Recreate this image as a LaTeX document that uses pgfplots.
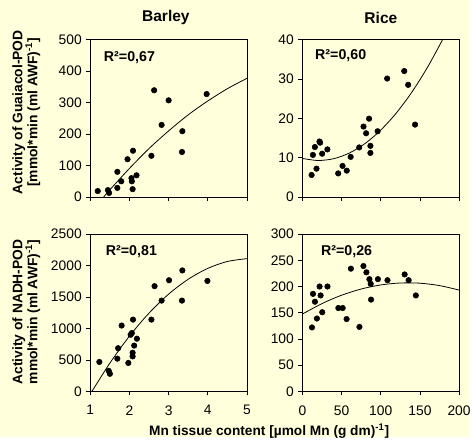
\documentclass[border=0pt]{standalone}
\usepackage{fontspec}
\setmainfont{Liberation Sans}
\usepackage{pgfplots}
\pgfplotsset{compat=1.18}
\definecolor{bg}{RGB}{255,255,219}
\pgfplotsset{
  panel/.style={
    scale only axis, width=119pt, height=119.6pt,
    axis line style={black, line width=0.6pt},
    tick align=outside, major tick length=3pt,
    xtick pos=bottom, ytick pos=left,
    tick style={black, line width=0.6pt},
    ticklabel style={font=\fontsize{10.5}{12}\selectfont},
    xticklabel style={yshift=-4pt},
    /pgf/number format/assume math mode=true,
    /pgf/number format/1000 sep={},
    anchor=south west,
  },
  dots/.style={only marks, mark=*, mark size=2.1pt, black},
  trend/.style={black, line width=0.6pt, smooth, no marks},
}
\begin{document}
\begin{tikzpicture}
\fill[bg] (0,0) rectangle (356.25pt,332.25pt);

% Barley, guaiacol-POD
\begin{axis}[panel, at={(68.6pt,182.6pt)},
  xmin=1, xmax=5, xtick={1,2,3,4,5}, xticklabels={},
  ymin=0, ymax=500, ytick={0,100,...,500}]
\addplot[dots] coordinates {
(1.19,19) (1.45,22) (1.48,13) (1.69,29) (1.69,80) (1.79,50) (1.95,120)
(2.05,60) (2.06,50) (2.08,25) (2.09,147) (2.18,69) (2.56,131) (2.63,339)
(2.82,229) (3.00,307) (3.35,209) (3.34,143) (3.97,327)};
\addplot[trend] coordinates {
(1.34,0) (1.5,23) (2,91) (2.5,154) (3,210) (3.5,261) (4,305) (4.5,344) (5,377)};
\node[anchor=west, font=\bfseries\fontsize{10.8}{12}\selectfont] at (axis cs:1.23,443) {R²=0,67};
\end{axis}

% Rice, guaiacol-POD
\begin{axis}[panel, at={(229.7pt,182.6pt)},
  xmin=0, xmax=200, xtick={0,50,...,200}, xticklabels={},
  ymin=0, ymax=40, ytick={0,10,...,40}]
\addplot[dots] coordinates {
(11.7,5.6) (13.4,10.7) (15.9,12.7) (18.0,7.2) (21.8,14.1) (22.6,13.8)
(25.2,11.0) (31.9,12.1) (45.7,6.0) (51.2,7.9) (56.6,6.7) (61.6,10.2)
(72.5,12.6) (78.0,17.9) (81.3,16.2) (85.1,19.9) (86.8,13.0) (86.8,11.2)
(96.0,16.7) (108.2,30.1) (130.0,32.0) (135.0,28.5) (143.8,18.4)};
\addplot[trend] coordinates {
(0,9.8) (20,9.28) (40,9.74) (60,11.18) (80,13.6) (100,17.0) (120,21.38)
(140,26.73) (160,33.07) (179,40)};
\node[anchor=west, font=\bfseries\fontsize{10.8}{12}\selectfont] at (axis cs:10.4,36) {R²=0,60};
\end{axis}

% Barley, NADH-POD
\begin{axis}[panel, at={(68.6pt,34.9pt)},
  xmin=1, xmax=5, xtick={1,2,3,4,5},
  ymin=0, ymax=2500, ytick={0,500,...,2500}]
\addplot[dots] coordinates {
(1.23,469) (1.47,328) (1.50,281) (1.69,521) (1.71,687) (1.80,1047)
(1.97,453) (2.03,901) (2.06,927) (2.08,557) (2.08,615) (2.09,1141)
(2.12,729) (2.19,838) (2.56,1141) (2.64,1672) (2.82,1443) (3.01,1766)
(3.35,1922) (3.34,1443) (3.99,1755)};
\addplot[trend] coordinates {
(1.04,0) (1.5,451) (2,880) (2.5,1245) (3,1546) (3.5,1782) (4,1955)
(4.5,2064) (5,2109)};
\node[anchor=west, font=\bfseries\fontsize{10.8}{12}\selectfont] at (axis cs:1.28,2214) {R²=0,81};
\end{axis}

% Rice, NADH-POD
\begin{axis}[panel, at={(229.7pt,34.9pt)},
  xmin=0, xmax=200, xtick={0,50,...,200},
  ymin=0, ymax=300, ytick={0,50,...,300}]
\addplot[dots] coordinates {
(12.2,122) (13.5,186) (16.0,171) (18.5,139) (21.9,200) (23.2,183)
(25.3,151) (32.0,200) (45.9,159) (51.4,159) (56.4,138) (61.9,234)
(72.8,123) (77.9,239) (81.7,227) (85.5,214) (87.2,205) (87.6,175)
(96.4,214) (108.6,212) (130.5,223) (135.6,212) (144.8,183)};
\addplot[trend] coordinates {
(0,147.5) (25,167.5) (50,183.4) (75,195.2) (100,203) (125,206.7)
(150,206.3) (175,201.8) (200,193.2)};
\node[anchor=west, font=\bfseries\fontsize{10.8}{12}\selectfont] at (axis cs:18,265.5) {R²=0,26};
\end{axis}

% titles and labels
\node[font=\bfseries\fontsize{11.8}{13}\selectfont] at (126pt,318.75pt) {Barley};
\node[font=\bfseries\fontsize{11.8}{13}\selectfont] at (289.3pt,318.75pt) {Rice};
\node[rotate=90, align=center, font=\bfseries\fontsize{10.5}{11.4}\selectfont]
  at (20pt,247pt) {Activity of Guaiacol-POD\\{}[mmol*min (ml AWF)\textsuperscript{-1}]};
\node[rotate=90, align=center, font=\bfseries\fontsize{10.5}{11.4}\selectfont]
  at (20pt,95.25pt) {Activity of NADH-POD\\mmol*min (ml AWF)\textsuperscript{-1}]};
\node[font=\bfseries\fontsize{10.4}{12}\selectfont] at (204.4pt,5pt)
  {Mn tissue content [µmol Mn (g dm)\textsuperscript{-1}]};
\end{tikzpicture}
\end{document}
